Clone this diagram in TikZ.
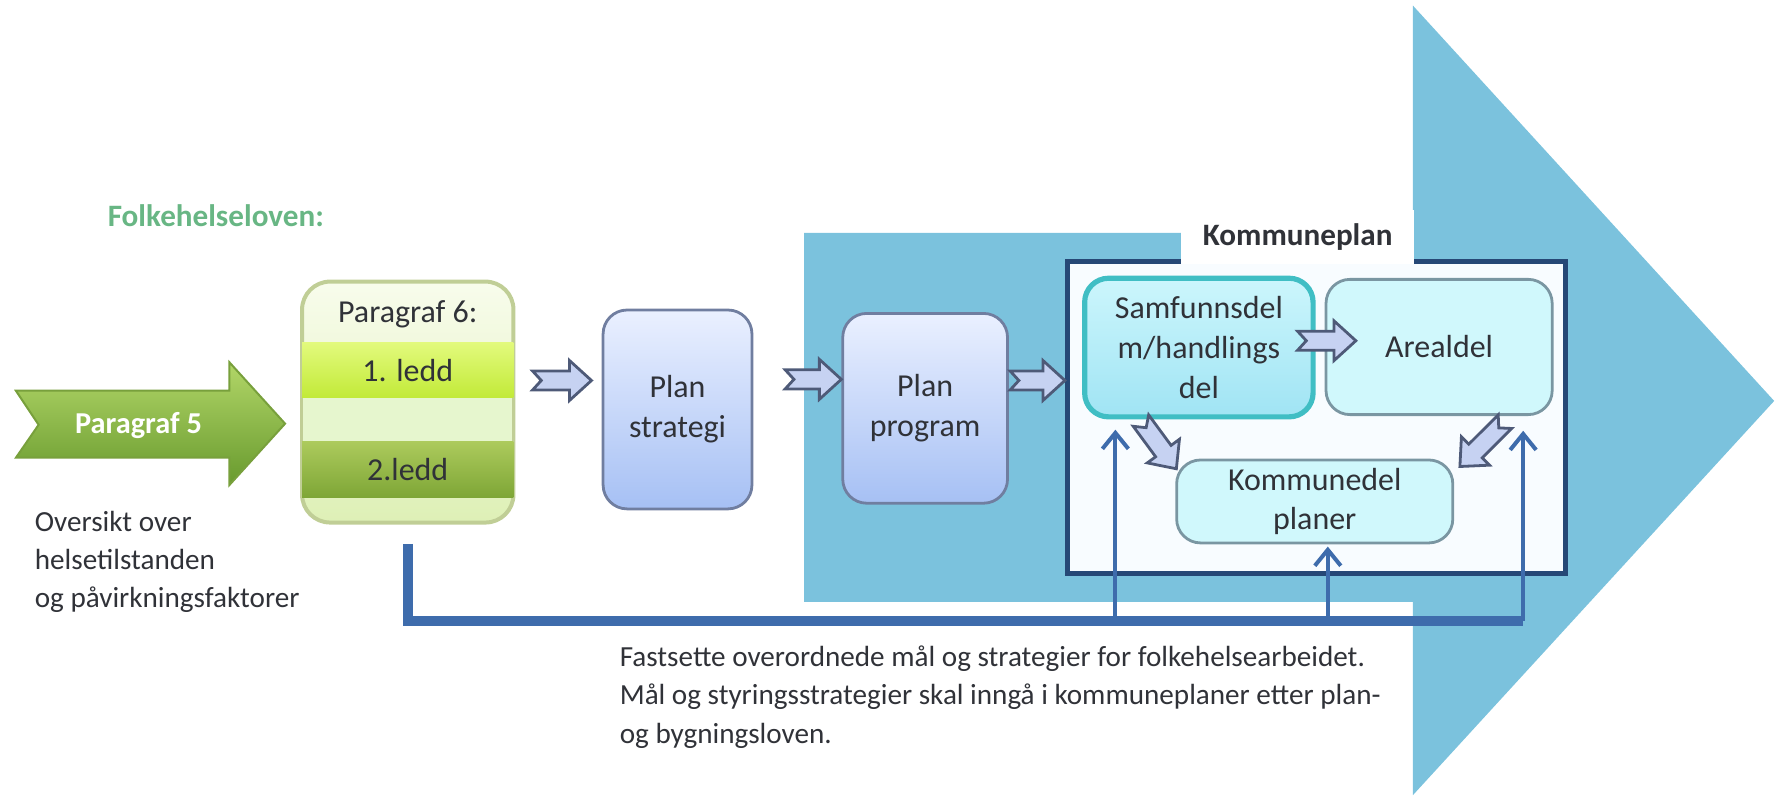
\documentclass[tikz,border=0pt]{standalone}
\usepackage{fontspec}
\setmainfont{Carlito}
\usetikzlibrary{calc,arrows.meta}
\definecolor{bigblue}{RGB}{123,194,221}
\definecolor{navy}{RGB}{38,72,118}
\definecolor{fbblue}{RGB}{62,108,172}
\definecolor{lavfill}{RGB}{198,210,242}
\definecolor{lavline}{RGB}{78,90,120}
\definecolor{planedge}{RGB}{112,126,160}
\definecolor{plantop}{RGB}{234,240,255}
\definecolor{planbot}{RGB}{166,192,244}
\definecolor{cyanfill}{RGB}{208,248,252}
\definecolor{cyanedge}{RGB}{122,150,162}
\definecolor{tealedge}{RGB}{64,190,196}
\definecolor{samftop}{RGB}{204,246,252}
\definecolor{samfbot}{RGB}{160,228,244}
\definecolor{kpfill}{RGB}{248,252,255}
\definecolor{txt}{RGB}{48,50,56}
\definecolor{lawgreen}{RGB}{104,182,132}
\definecolor{chevtop}{RGB}{178,214,104}
\definecolor{chevbot}{RGB}{104,154,46}
\definecolor{chevedge}{RGB}{120,160,60}
\definecolor{ptopc}{RGB}{248,252,236}
\definecolor{pbotc}{RGB}{222,240,182}
\definecolor{pedge}{RGB}{192,206,150}
\definecolor{pgap}{RGB}{230,246,206}
\definecolor{ledtop}{RGB}{226,250,124}
\definecolor{ledbot}{RGB}{194,234,56}
\definecolor{ledtwotop}{RGB}{172,202,92}
\definecolor{ledtwobot}{RGB}{126,166,54}
\tikzset{planbox/.style={draw=planedge,line width=0.7pt,rounded corners=6pt,top color=plantop,bottom color=planbot,text=txt,align=center,font=\fontsize{8}{10}\selectfont,inner sep=0pt}}
\tikzset{kbox/.style={draw=cyanedge,line width=0.7pt,rounded corners=6pt,fill=cyanfill,text=txt,align=center,font=\fontsize{8}{10}\selectfont,inner sep=0pt}}
\tikzset{band/.style={inner sep=0pt,minimum width=1.86cm,text=txt,font=\fontsize{8}{10}\selectfont}}
\tikzset{blockarrow/.style={draw=lavline,line width=0.7pt,fill=lavfill,line join=miter}}
\tikzset{fbthick/.style={draw=fbblue,line width=2.4pt}}
\tikzset{fbup/.style={draw=fbblue,line width=1pt,-{Straight Barb[length=4pt,width=6.5pt,line width=1pt]}}}
\tikzset{note/.style={anchor=north west,inner sep=0pt,align=left,text=txt,font=\fontsize{7.3}{9.6}\selectfont}}
\newcommand{\notcharrow}[2]{%
  \draw[blockarrow] let \p1=(#1), \p2=(#2),
    \n1={atan2(\y2-\y1,\x2-\x1)}, \n2={veclen(\x2-\x1,\y2-\y1)} in
    [shift={(\p1)}, rotate=\n1]
    (0pt,2.4pt) -- (\n2-5.5pt,2.4pt) -- (\n2-5.5pt,5pt) -- (\n2,0pt)
    -- (\n2-5.5pt,-5pt) -- (\n2-5.5pt,-2.4pt) -- (0pt,-2.4pt) -- (2.2pt,0pt) -- cycle;}
\begin{document}
\begin{tikzpicture}[x=0.01cm,y=-0.01cm]
\useasboundingbox (0,0) rectangle (1568,701);
\fill[bigblue] (708,205) -- (1244,205) -- (1244,5) -- (1562,353) -- (1244,700) -- (1244,530) -- (708,530) -- cycle;

\node[text=lawgreen,font=\bfseries\fontsize{7.8}{9}\selectfont] (lov) at (190,190) {Folkehelseloven:};

\shade[top color=chevtop,bottom color=chevbot,draw=chevedge,line width=0.5pt]
  (14,344) -- (202,344) -- (202,319) -- (251,373) -- (202,427) -- (202,403) -- (14,403) -- (34,374) -- cycle;
\node[text=white,font=\bfseries\fontsize{7.6}{9}\selectfont] (p5) at (122,375) {Paragraf 5};

\node[draw=pedge,line width=1pt,rounded corners=7pt,minimum width=1.86cm,minimum height=2.12cm,top color=ptopc,bottom color=pbotc] (par6) at (359,354) {};
\fill[pgap] (267,350) rectangle (451,389);
\node[band,minimum height=0.48cm,top color=ledtop,bottom color=ledbot] (l1) at (359,326) {1. ledd};
\node[band,minimum height=0.49cm,top color=ledtwotop,bottom color=ledtwobot] (l2) at (359,413.5) {2.ledd};
\node[text=txt,font=\fontsize{8}{10}\selectfont] (p6) at (359,277) {Paragraf 6:};

\node[note] (oversikt) at (30,449) {Oversikt over\\helsetilstanden\\og påvirkningsfaktorer};

\node[planbox,minimum width=1.31cm,minimum height=1.75cm] (strat) at (596.5,360.5) {Plan\\strategi};
\node[planbox,minimum width=1.45cm,minimum height=1.67cm] (prog) at (814.5,359.5) {Plan\\program};

\node[draw=navy,line width=1.3pt,fill=kpfill,minimum width=4.38cm,minimum height=2.75cm,inner sep=0pt] (kp) at (1159,367.5) {};
\node[fill=white,minimum width=2.05cm,minimum height=0.47cm,inner sep=0pt,text=txt,font=\bfseries\fontsize{7.8}{9}\selectfont] (kplab) at (1142.5,208.5) {Kommuneplan};

\node[kbox,draw=tealedge,line width=1.3pt,top color=samftop,bottom color=samfbot,minimum width=2.01cm,minimum height=1.22cm] (samf) at (1055.5,306) {Samfunnsdel\\m/handlings\\del};
\node[kbox,minimum width=1.99cm,minimum height=1.19cm] (areal) at (1267,305.5) {Arealdel};
\node[kbox,minimum width=2.43cm,minimum height=0.73cm] (kdel) at (1157.5,441.5) {Kommunedel\\planer};

\notcharrow{$(par6.east)+(15,-19)$}{$(strat.west)+(-9,-25.5)$}
\notcharrow{$(strat.east)+(28,-26.5)$}{$(prog.west)+(0,-25.5)$}
\notcharrow{$(prog.east)+(1,-24.5)$}{$(kp.west)+(0,-32.5)$}
\notcharrow{$(samf.east)+(-16,-6)$}{$(areal.west)+(27.5,-5.5)$}
\notcharrow{$(samf.south)+(-51,1)$}{$(kdel.north west)+(1,9)$}
\notcharrow{$(areal.south)+(58,5)$}{$(kdel.north east)+(5,7)$}

\coordinate (fbL) at (359,547);
\coordinate (fbA) at (982,547);
\coordinate (fbB) at (1169,547);
\coordinate (fbR) at (1341,547);
\draw[fbthick] ($(par6.south)+(0,17)$) -- (fbL) -- (fbR);
\foreach \c/\n/\g in {fbA/samf/9,fbB/kdel/2,fbR/areal/13}
  \draw[fbup] (\c) -- ($(\c |- \n.south)+(0,\g)$);

\node[note] (maal) at (545,568) {Fastsette overordnede mål og strategier for folkehelsearbeidet.\\Mål og styringsstrategier skal inngå i kommuneplaner etter plan-\\og bygningsloven.};
\end{tikzpicture}
\end{document}
